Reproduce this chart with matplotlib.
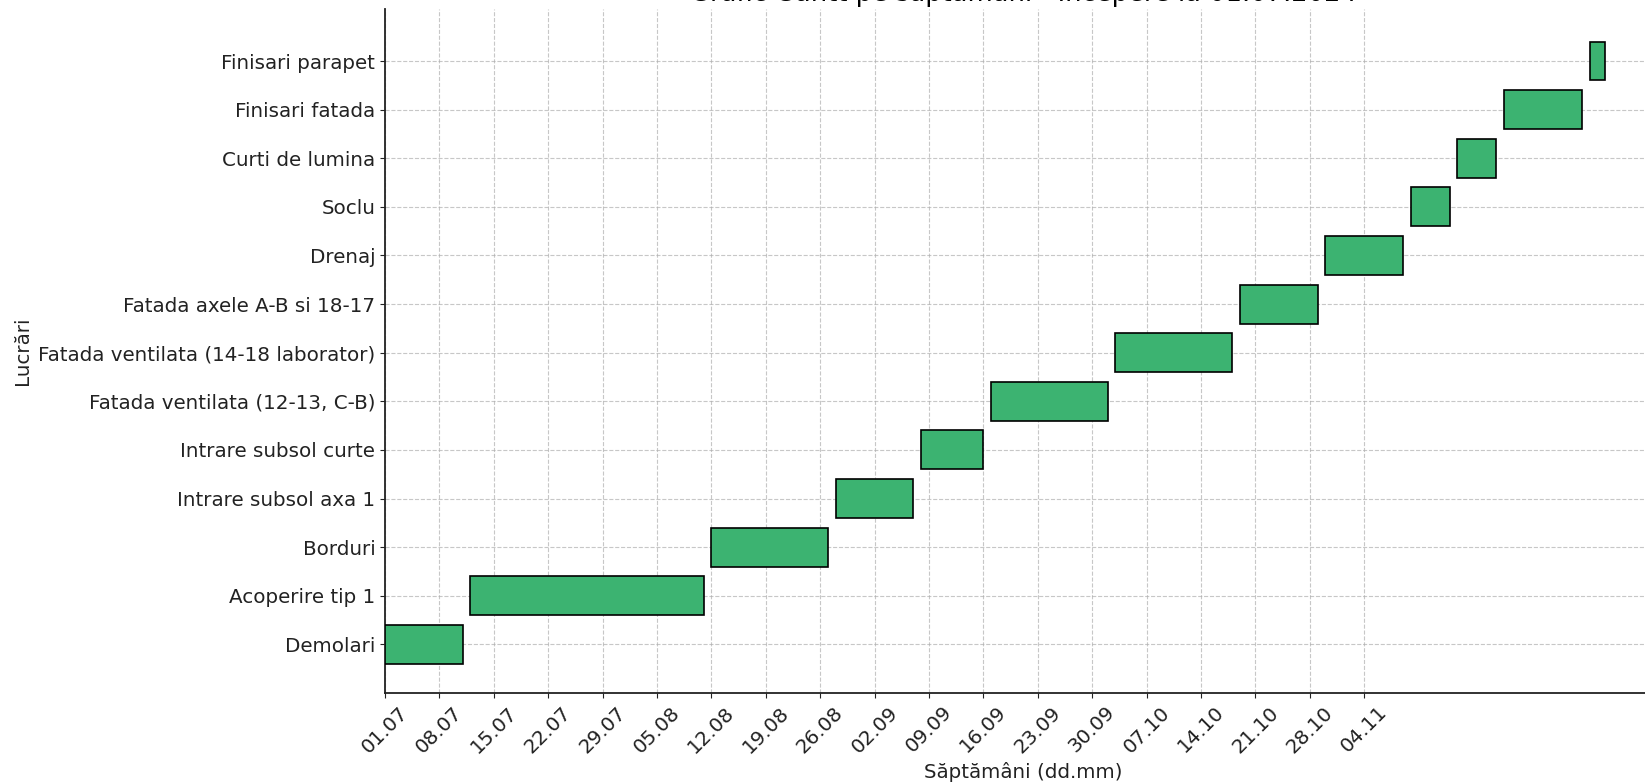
import matplotlib
matplotlib.use("Agg")
import matplotlib.pyplot as plt

plt.rcParams["font.family"] = ["DejaVu Sans"]

# lucrari (de jos in sus) si zilele de la 01.07
tasks = ["Demolari", "Acoperire tip 1", "Borduri", "Intrare subsol axa 1",
         "Intrare subsol curte", "Fatada ventilata (12-13, C-B)",
         "Fatada ventilata (14-18 laborator)", "Fatada axele A-B si 18-17",
         "Drenaj", "Soclu", "Curti de lumina", "Finisari fatada", "Finisari parapet"]
start_day = [0, 11, 42, 58, 69, 78, 94, 110, 121, 132, 138, 144, 155]
duration = [10, 30, 15, 10, 8, 15, 15, 10, 10, 5, 5, 10, 2]

week_labels = ["01.07", "08.07", "15.07", "22.07", "29.07", "05.08", "12.08",
               "19.08", "26.08", "02.09", "09.09", "16.09", "23.09", "30.09",
               "07.10", "14.10", "21.10", "28.10", "04.11"]
week_pos = [7 * i for i in range(len(week_labels))]

fig = plt.figure(figsize=(16.45, 7.84), dpi=100)
ax = fig.add_axes([385 / 1645, 91 / 784, 1276 / 1645, 684 / 784])

ax.barh(range(len(tasks)), duration, left=start_day, height=0.8,
        color="#3cb371", edgecolor="black", linewidth=1.2, zorder=3)

fs = 14.3
ax.set_yticks(range(len(tasks)))
ax.set_yticklabels(tasks, fontsize=fs)
ax.set_xticks(week_pos)
ax.set_xticklabels(week_labels, rotation=45, fontsize=fs)
ax.set_xlim(0, 164.2)
ax.set_ylim(-1, 13.07)

ax.grid(True, linestyle="--", color="#b0b0b0", alpha=0.7, zorder=0)
ax.spines["top"].set_visible(False)
ax.spines["right"].set_visible(False)
for s in ["left", "bottom"]:
    ax.spines[s].set_linewidth(1.3)
    ax.spines[s].set_color("#222222")

ax.set_xlabel("Săptămâni (dd.mm)", fontsize=fs, color="#222222")
ax.set_ylabel("Lucrări", fontsize=fs, color="#222222")
ax.set_title("Grafic Gantt pe săptămâni - Începere la 01.07.2024", fontsize=18.5, pad=6)
ax.tick_params(colors="#222222")

fig.savefig("out.png", dpi=100)
